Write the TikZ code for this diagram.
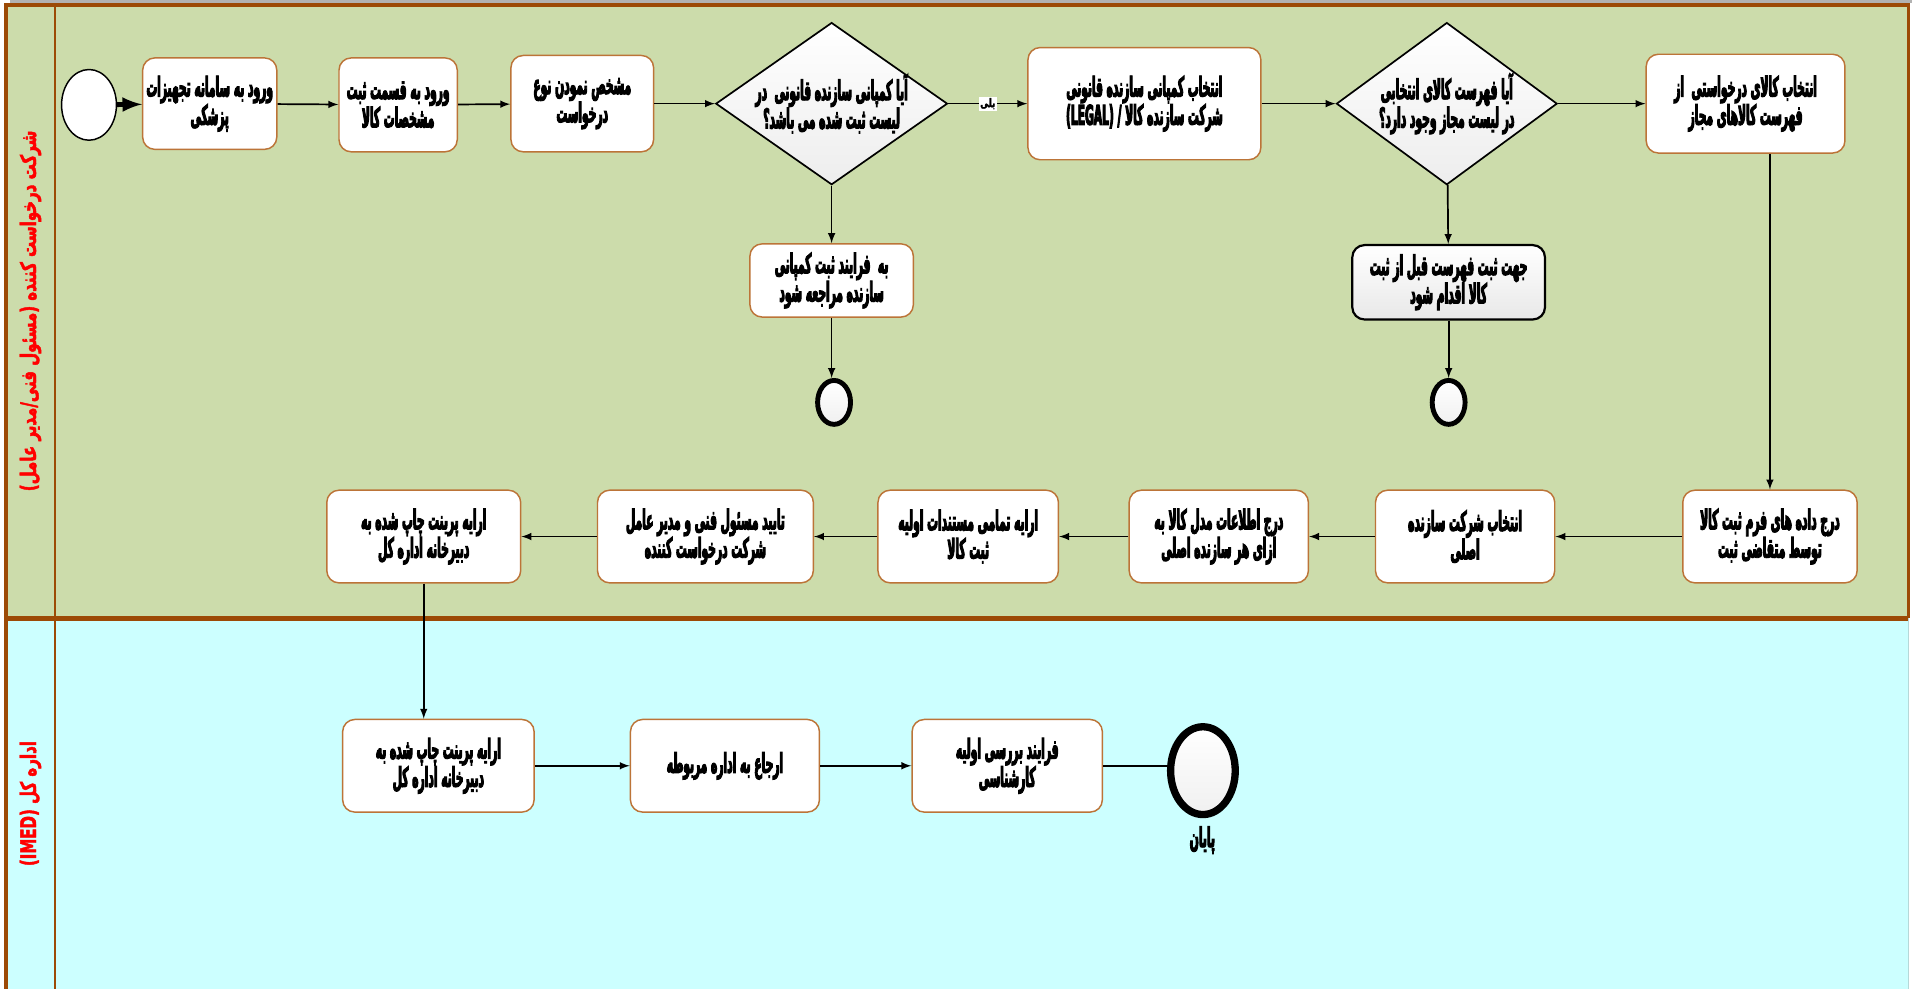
\documentclass[tikz,border=0pt]{standalone}
\usepackage{fontspec}
\usetikzlibrary{shapes.geometric}
\TeXXeTstate=1
\newfontfamily\fafont[Script=Arabic,FakeStretch=0.39,BoldFeatures={FakeBold=3.5}]{DejaVu Sans}
\newfontfamily\lanefont[Script=Arabic,FakeStretch=0.7,BoldFeatures={FakeBold=2}]{DejaVu Sans}
\newcommand{\rl}[1]{\beginR #1\endR}
\definecolor{lanegreen}{RGB}{204,220,171}
\definecolor{lanecyan}{RGB}{204,255,255}
\definecolor{lanebrown}{RGB}{156,74,6}
\definecolor{boxbrown}{RGB}{188,116,56}
\definecolor{lblred}{RGB}{255,0,0}

\tikzset{
  sz/.style 2 args={minimum width=#1*0.25mm, minimum height=#2*0.25mm},
  fatext/.style={font=\fafont\bfseries\fontsize{16}{16.5}\selectfont, align=center},
  task/.style={fatext, draw=boxbrown, line width=0.3mm, fill=white, rounded corners=2.5mm, inner sep=0pt},
  grtask/.style={task, draw=black, line width=0.45mm, top color=white, bottom color=gray!18},
  gate/.style={diamond, draw=black, line width=0.35mm, top color=white, bottom color=gray!14, inner sep=0pt},
  startev/.style={ellipse, draw=black, line width=0.3mm, fill=white, inner sep=0pt},
  endev/.style={ellipse, draw=black, line width=1mm, top color=white, bottom color=gray!12, inner sep=0pt},
  lanelbl/.style={font=\lanefont\bfseries\fontsize{12.5}{14}\selectfont, text=lblred, rotate=90},
  yeslbl/.style={font=\lanefont\bfseries\fontsize{7}{8}\selectfont, fill=white, inner sep=0.3mm},
  flow/.style={->, line width=0.35mm}
}

\begin{document}
\begin{tikzpicture}[>=latex, x=0.25mm, y=-0.25mm]
\useasboundingbox (0,0) rectangle (1568,811);

% lanes
\fill[lanecyan] (5,507) rectangle (1565,811);
\fill[lanegreen] (5,4) rectangle (1565,507);
\draw[gray!60, line width=0.7mm] (8,0.8)--(1568,0.8);
\draw[lanebrown, line width=0.7mm] (5,811)--(5,4)--(1565,4)--(1565,507);
\draw[lanebrown, line width=0.5mm] (45,4)--(45,811);
\draw[lanebrown, line width=1.1mm] (5,507)--(1565,507);
\draw[lanecyan!70!gray, line width=0.3mm] (1565,507)--(1565,811);

\node[lanelbl] (lane1) at (25,255) {\rl{شرکت درخواست کننده (مسئول فنی/مدیر عامل)}};
\node[lanelbl] (lane2) at (25,659) {\rl{اداره کل \beginL(IMED)\endL}};

% first row
\node[startev, sz={45}{58}] (start) at (73,86) {};
\node[task, sz={110}{75}] (b1) at (172,85) {\rl{ورود به سامانه تجهیزات}\\\rl{پزشکی}};
\node[task, sz={97}{77}] (b2) at (326.5,86) {\rl{ورود به قسمت ثبت}\\\rl{مشخصات کالا}};
\node[task, sz={117}{79}] (b3) at (477.5,85) {\rl{مشخص نمودن نوع}\\\rl{درخواست}};
\node[gate, sz={190}{133}] (d1) at (682,85) {};
\node[fatext] (d1t) at (682,85) {\rl{آیا کمپانی سازنده قانونی\ \ در}\\\rl{لیست ثبت شده می باشد؟}};
\node[task, sz={191}{92}] (b4) at (938.5,85) {\rl{انتخاب کمپانی سازنده قانونی}\\\rl{شرکت سازنده کالا / \beginL(LEGAL)\endL}};
\node[gate, sz={181}{133}] (d2) at (1186.5,85) {};
\node[fatext] (d2t) at (1186.5,85) {\rl{آیا فهرست کالای انتخابی}\\\rl{در لیست مجاز وجود دارد؟}};
\node[task, sz={163}{81}] (b5) at (1431.5,85) {\rl{انتخاب کالای درخواستی\ \ از}\\\rl{فهرست کالاهای مجاز}};

% side exits
\node[task, sz={134}{60}] (n1) at (682,230) {\rl{به\ \ فرایند ثبت کمپانی}\\\rl{سازنده مراجعه شود}};
\node[endev, sz={27}{36}] (e1) at (684,330) {};
\node[grtask, sz={158}{61}] (n2) at (1188,231.5) {\rl{جهت ثبت فهرست قبل از ثبت}\\\rl{کالا اقدام شود}};
\node[endev, sz={27}{36}] (e2) at (1188,330) {};

% second row
\node[task, sz={143}{76}] (b6) at (1451.5,440) {\rl{درج داده های فرم ثبت کالا}\\\rl{توسط متقاضی ثبت}};
\node[task, sz={147}{76}] (b7) at (1201.5,440) {\rl{انتخاب شرکت سازنده}\\\rl{اصلی}};
\node[task, sz={147}{76}] (b8) at (999.5,440) {\rl{درج اطلاعات مدل کالا به}\\\rl{ازای هر سازنده اصلی}};
\node[task, sz={148}{76}] (b9) at (794,440) {\rl{ارایه تمامی مستندات اولیه}\\\rl{ثبت کالا}};
\node[task, sz={177}{76}] (b10) at (578.5,440) {\rl{تایید مسئول فنی و مدیر عامل}\\\rl{شرکت درخواست کننده}};
\node[task, sz={159}{76}] (b11) at (347.5,440) {\rl{ارایه پرینت چاپ شده به}\\\rl{دبیرخانه اداره کل}};

% third row
\node[task, sz={157}{76}] (b12) at (359.5,628) {\rl{ارایه پرینت چاپ شده به}\\\rl{دبیرخانه اداره کل}};
\node[task, sz={155}{76}] (b13) at (594.5,628) {\rl{ارجاع به اداره مربوطه}};
\node[task, sz={156}{76}] (b14) at (826,628) {\rl{فرایند بررسی اولیه}\\\rl{کارشناسی}};
\node[endev, line width=1.5mm, sz={53}{72}] (e3) at (986.5,632) {};
\node[fatext] (e3t) at (986,689) {\rl{پایان}};

% flows
\draw[->, line width=1mm] (start)--(b1);
\draw[flow] (b1)--(b2);
\draw[flow] (b2)--(b3);
\draw[flow] (b3)--(d1);
\draw[flow] (d1)--node[yeslbl] (yes) {\rl{بلی}} (b4);
\draw[flow] (b4)--(d2);
\draw[flow] (d2)--(b5);
\draw[flow] (d1)--(n1);
\draw[flow] (n1.south)--(n1.south |- e1.north);
\draw[flow] (d2)--(n2);
\draw[flow] (n2)--(e2);
\draw[flow] (b5.south -| b6)--(b6);
\foreach \a/\b in {b6/b7,b7/b8,b8/b9,b9/b10,b10/b11}
{
    \draw[flow] (\a)--(\b);
}
\draw[flow] (b11.south)--(b11.south |- b12.north);
\draw[flow] (b12)--(b13);
\draw[flow] (b13)--(b14);
\draw[line width=0.35mm] (b14.east)--(b14.east -| e3.west);
\end{tikzpicture}
\end{document}
